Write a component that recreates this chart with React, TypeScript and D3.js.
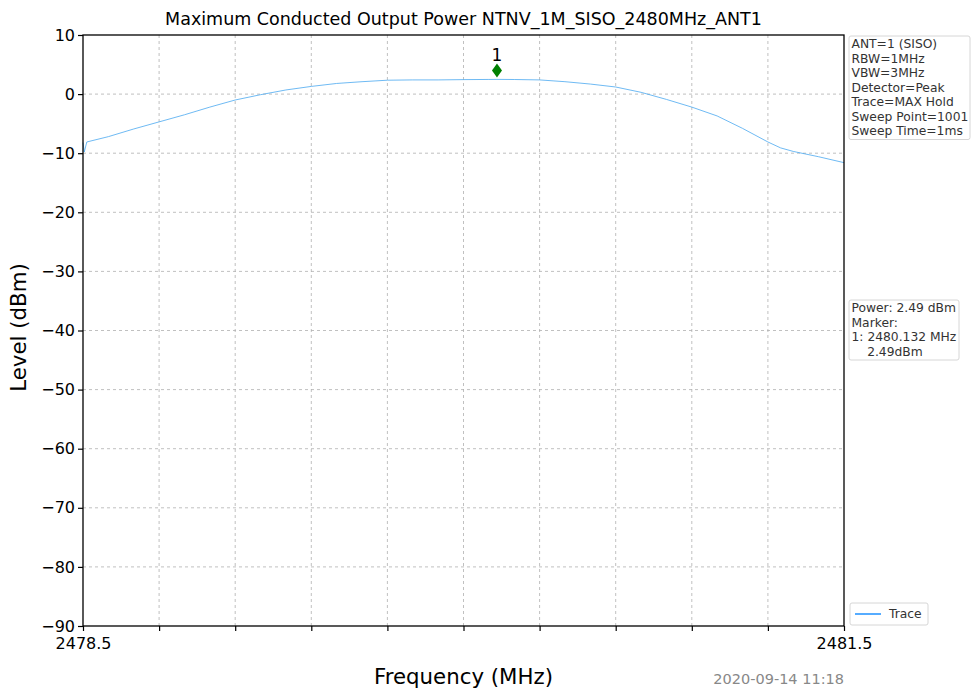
// @ts-nocheck
import React, { useEffect, useRef } from 'react'
import * as d3 from 'd3'

// trace readings (MHz, dBm)
const freqs = [2478.5, 2478.505, 2478.515, 2478.6, 2478.7, 2478.8, 2478.9, 2479.0, 2479.1, 2479.2,
    2479.3, 2479.4, 2479.5, 2479.6, 2479.7, 2479.8, 2479.9, 2480.0, 2480.1, 2480.132, 2480.2,
    2480.3, 2480.4, 2480.5, 2480.6, 2480.7, 2480.8, 2480.9, 2481.0, 2481.1, 2481.2, 2481.25,
    2481.3, 2481.4, 2481.5]
const levels = [-8.2, -9.8, -8.1, -7.2, -5.9, -4.7, -3.5, -2.2, -1.0, -0.1,
    0.7, 1.3, 1.8, 2.1, 2.35, 2.4, 2.4, 2.45, 2.48, 2.49, 2.47,
    2.4, 2.1, 1.7, 1.2, 0.3, -0.9, -2.2, -3.7, -5.8, -8.1, -9.1,
    -9.7, -10.6, -11.6]

const markerFreq = 2480.132
const markerLevel = 2.49
const yTicks = [10, 0, -10, -20, -30, -40, -50, -60, -70, -80, -90]
const xTicks = [2478.5, 2478.8, 2479.1, 2479.4, 2479.7, 2480.0, 2480.3, 2480.6, 2480.9, 2481.2, 2481.5]
const xLabels = ['2478.5', '2481.5']
const infoLines = ['ANT=1 (SISO)', 'RBW=1MHz', 'VBW=3MHz', 'Detector=Peak', 'Trace=MAX Hold', 'Sweep Point=1001', 'Sweep Time=1ms']
const markerLines = ['Power: 2.49 dBm', 'Marker:', '1: 2480.132 MHz', '    2.49dBm']

const App = () => {
    const ref = useRef(null)

    useEffect(() => {
        const width = 974, height = 692
        const left = 83, right = 844, top = 35, bottom = 626
        const font = 'DejaVu Sans, sans-serif'

        const x = d3.scaleLinear([2478.5, 2481.5], [left, right])
        const y = d3.scaleLinear([-90, 10], [bottom, top])

        const svg = d3.select(ref.current)
            .attr('width', width)
            .attr('height', height)
        svg.selectAll('*').remove()
        svg.append('rect').attr('width', width).attr('height', height).attr('fill', '#fff')

        // grid
        const grid = svg.append('g').attr('stroke', '#b0b0b0').attr('stroke-width', 0.8).attr('stroke-dasharray', '3,3')
        xTicks.slice(1, -1).forEach(t => grid.append('line')
            .attr('x1', x(t)).attr('x2', x(t)).attr('y1', top).attr('y2', bottom))
        yTicks.slice(1, -1).forEach(t => grid.append('line')
            .attr('x1', left).attr('x2', right).attr('y1', y(t)).attr('y2', y(t)))

        // trace
        const pts = freqs.map((f, i) => [f, levels[i]])
        svg.append('path')
            .attr('fill', 'none')
            .attr('stroke', '#4aa8f0')
            .attr('stroke-width', 0.8)
            .attr('d', d3.line().x(d => x(d[0])).y(d => y(d[1]))(pts))

        // axes
        svg.append('g')
            .attr('transform', `translate(0, ${bottom})`)
            .call(d3.axisBottom(x).tickValues(xTicks).tickSize(5).tickSizeOuter(0)
                .tickFormat(d => xLabels.includes(d3.format('.1f')(d)) ? d3.format('.1f')(d) : ''))
            .call(g => g.select('.domain').remove())
            .call(g => g.selectAll('text').attr('font-size', 16).attr('font-family', font).attr('fill', '#000').attr('dy', '0.95em'))
            .call(g => g.selectAll('line').attr('stroke', '#000').attr('stroke-width', 1.2))

        svg.append('g')
            .attr('transform', `translate(${left}, 0)`)
            .call(d3.axisLeft(y).tickValues(yTicks).tickSize(5)
                .tickFormat(d => d < 0 ? '\u2212' + Math.abs(d) : String(d)))
            .call(g => g.select('.domain').remove())
            .call(g => g.selectAll('text').attr('font-size', 16).attr('font-family', font).attr('fill', '#000').attr('x', -8))
            .call(g => g.selectAll('line').attr('stroke', '#000').attr('stroke-width', 1.2))

        svg.append('rect')
            .attr('x', left).attr('y', top).attr('width', right - left).attr('height', bottom - top)
            .attr('fill', 'none').attr('stroke', '#000').attr('stroke-width', 1.3)

        // marker
        const mx = x(markerFreq), my = y(markerLevel) - 9
        svg.append('path')
            .attr('d', `M${mx},${my - 7}L${mx + 5},${my}L${mx},${my + 7}L${mx - 5},${my}Z`)
            .attr('fill', '#008000')
        svg.append('text')
            .attr('x', mx).attr('y', my - 9)
            .attr('text-anchor', 'middle').attr('font-family', font).attr('font-size', 17)
            .text('1')

        // title and labels
        svg.append('text')
            .attr('x', (left + right) / 2).attr('y', 25)
            .attr('text-anchor', 'middle').attr('font-family', font).attr('font-size', 17.5)
            .text('Maximum Conducted Output Power NTNV_1M_SISO_2480MHz_ANT1')
        svg.append('text')
            .attr('x', (left + right) / 2).attr('y', 684)
            .attr('text-anchor', 'middle').attr('font-family', font).attr('font-size', 21.3)
            .text('Frequency (MHz)')
        svg.append('text')
            .attr('transform', `translate(26, ${(top + bottom) / 2 - 3}) rotate(-90)`)
            .attr('text-anchor', 'middle').attr('font-family', font).attr('font-size', 21.3)
            .text('Level (dBm)')
        svg.append('text')
            .attr('x', right).attr('y', 684)
            .attr('text-anchor', 'end').attr('font-family', font).attr('font-size', 14.5).attr('fill', '#888')
            .text('2020-09-14 11:18')

        // info boxes
        const box = (bx, by, bw, lines) => {
            const lh = 14.5
            svg.append('rect')
                .attr('x', bx).attr('y', by).attr('width', bw).attr('height', lines.length * lh + 2)
                .attr('rx', 2).attr('fill', '#fff').attr('stroke', '#d6d6d6')
            lines.forEach((l, i) => svg.append('text')
                .attr('x', bx + 2.5).attr('y', by + 12 + i * lh)
                .attr('font-family', font).attr('font-size', 12.3).attr('fill', '#333')
                .attr('xml:space', 'preserve').style('white-space', 'pre')
                .text(l))
        }
        box(849, 36, 121, infoLines)
        box(849, 300, 110, markerLines)

        // legend
        svg.append('rect')
            .attr('x', 850).attr('y', 603).attr('width', 78).attr('height', 22)
            .attr('rx', 2).attr('fill', '#fff').attr('stroke', '#d6d6d6')
        svg.append('line')
            .attr('x1', 855).attr('x2', 881).attr('y1', 614).attr('y2', 614)
            .attr('stroke', '#1e90ff').attr('stroke-width', 1.5)
        svg.append('text')
            .attr('x', 889).attr('y', 618)
            .attr('font-family', font).attr('font-size', 12.3).attr('fill', '#333')
            .text('Trace')
    }, [])

    return <svg ref={ref} style={{ position: 'absolute', left: 0, top: 0 }} width='974' height='692'></svg>
}

export default App
